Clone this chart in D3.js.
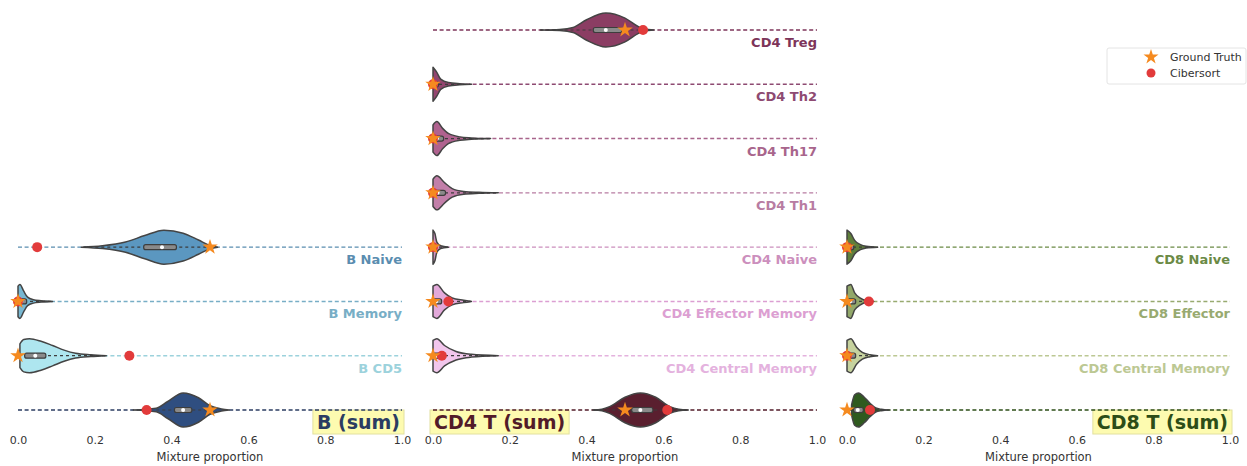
<!DOCTYPE html>
<html><head><meta charset="utf-8">
<script src="https://cdn.jsdelivr.net/npm/d3@7"></script>
<style>
body{margin:0;background:#fff;}
text{font-family:"DejaVu Sans",sans-serif;}
</style></head>
<body><svg id="chart" width="1247" height="466"></svg>
<script>
// ---------- DATA ----------
const tickValues = [0, 0.2, 0.4, 0.6, 0.8, 1.0];
const tickLabels = ["0.0", "0.2", "0.4", "0.6", "0.8", "1.0"];
const xAxisTitle = "Mixture proportion";
const legendLabels = ["Ground Truth", "Cibersort"];

const bCategories = ["B Naive", "B Memory", "B CD5", "B (sum)"];
const cd4Categories = ["CD4 Treg", "CD4 Th2", "CD4 Th17", "CD4 Th1", "CD4 Naive", "CD4 Effector Memory", "CD4 Central Memory", "CD4 T (sum)"];
const cd8Categories = ["CD8 Naive", "CD8 Effector", "CD8 Central Memory", "CD8 T (sum)"];

// ground truth (star) and Cibersort (dot) estimates
const bGroundTruth = [0.50, 0.0, 0.0, 0.50];
const bCibersort = [0.05, 0.0, 0.29, 0.335];
const cd4GroundTruth = [0.50, 0.0, 0.0, 0.0, 0.0, 0.0, 0.0, 0.50];
const cd4Cibersort = [0.547, 0.0, 0.0, 0.0, 0.0, 0.04, 0.023, 0.61];
const cd8GroundTruth = [0.0, 0.0, 0.0, 0.0];
const cd8Cibersort = [0.0, 0.057, 0.0, 0.06];

// violin density profiles: [value, relative density]
const bProfiles = [
  [[0.165,0],[0.22,0.08],[0.28,0.3],[0.33,0.68],[0.38,1.0],[0.43,0.82],[0.47,0.42],[0.50,0.1],[0.52,0]],
  [[0.0,0.9],[0.005,1.0],[0.015,0.6],[0.025,0.25],[0.04,0.1],[0.06,0.04],[0.09,0]],
  [[0.005,0.7],[0.015,0.95],[0.03,1.0],[0.06,0.85],[0.09,0.6],[0.12,0.33],[0.15,0.14],[0.19,0.05],[0.23,0]],
  [[0.30,0],[0.36,0.1],[0.39,0.5],[0.43,1.0],[0.47,0.72],[0.50,0.25],[0.53,0.06],[0.55,0]]
];
const cd4Profiles = [
  [[0.28,0],[0.33,0.03],[0.365,0.15],[0.40,0.6],[0.45,1.0],[0.50,0.7],[0.535,0.2],[0.55,0.06],[0.575,0]],
  [[0.0,1.0],[0.01,0.7],[0.02,0.3],[0.04,0.1],[0.07,0.03],[0.10,0]],
  [[0.0,0.8],[0.01,1.0],[0.025,0.6],[0.04,0.3],[0.07,0.1],[0.10,0.04],[0.15,0]],
  [[0.0,0.8],[0.01,1.0],[0.03,0.6],[0.05,0.25],[0.08,0.08],[0.12,0.03],[0.17,0]],
  [[0.0,1.0],[0.005,0.8],[0.01,0.3],[0.02,0.08],[0.04,0]],
  [[0.0,0.9],[0.01,1.0],[0.03,0.5],[0.05,0.2],[0.08,0.07],[0.10,0]],
  [[0.0,0.9],[0.01,1.0],[0.03,0.6],[0.06,0.25],[0.10,0.08],[0.17,0]],
  [[0.416,0],[0.44,0.05],[0.46,0.2],[0.50,0.75],[0.54,1.0],[0.58,0.75],[0.617,0.2],[0.64,0.05],[0.665,0]]
];
const cd8Profiles = [
  [[0.0,1.0],[0.01,0.8],[0.02,0.4],[0.035,0.15],[0.05,0.05],[0.08,0]],
  [[0.0,0.9],[0.01,1.0],[0.02,0.5],[0.035,0.2],[0.05,0.05],[0.07,0]],
  [[0.0,0.9],[0.01,1.0],[0.025,0.5],[0.04,0.2],[0.06,0.06],[0.08,0]],
  [[0.012,0.3],[0.02,0.9],[0.03,1.0],[0.045,0.75],[0.06,0.4],[0.075,0.12],[0.09,0.04],[0.11,0]]
];
// inner box: [whiskerLow, q1, median, q3, whiskerHigh]
const bBoxStats = [[0.17,0.33,0.375,0.41,0.50],[0.0,0.0,0.008,0.02,0.09],[0.0,0.02,0.045,0.07,0.23],[0.36,0.41,0.43,0.45,0.50]];
const cd4BoxStats = [[0.28,0.42,0.45,0.49,0.56],[0.0,0.0,0.005,0.012,0.10],[0.0,0.0,0.01,0.025,0.15],[0.0,0.005,0.012,0.03,0.17],[0.0,0.0,0.002,0.006,0.04],[0.0,0.0,0.008,0.02,0.10],[0.0,0.0,0.008,0.02,0.17],[0.42,0.52,0.54,0.57,0.66]];
const cd8BoxStats = [[0.0,0.0,0.006,0.015,0.08],[0.0,0.0,0.008,0.02,0.07],[0.0,0.0,0.008,0.02,0.08],[0.01,0.02,0.028,0.04,0.10]];

// ---------- STYLES ----------
const bFill = ["#5b97c0", "#78b8d2", "#aee6ef", "#2f4e80"];
const bText = ["#5a8db0", "#78aec6", "#9cd2dc", "#2b3c62"];
const cd4Fill = ["#8b3d63", "#93456f", "#b0628f", "#c27fa9", "#cf92bd", "#e3a9da", "#f2c6ec", "#5a1f2f"];
const cd4Text = ["#7d3459", "#8e4a72", "#a8658c", "#b87ca2", "#cc8fbd", "#dc9fd2", "#e4b2de", "#521b29"];
const cd8Fill = ["#5f7f3a", "#92a86a", "#c6d29e", "#2f5a1f"];
const cd8Text = ["#6b8a45", "#98aa70", "#bcc893", "#2c4d17"];

const panels = [
  {cats: bCategories, gt: bGroundTruth, cib: bCibersort, prof: bProfiles, box: bBoxStats, fill: bFill, text: bText, range: [18, 402], sumBox: "right"},
  {cats: cd4Categories, gt: cd4GroundTruth, cib: cd4Cibersort, prof: cd4Profiles, box: cd4BoxStats, fill: cd4Fill, text: cd4Text, range: [433, 817], sumBox: "left"},
  {cats: cd8Categories, gt: cd8GroundTruth, cib: cd8Cibersort, prof: cd8Profiles, box: cd8BoxStats, fill: cd8Fill, text: cd8Text, range: [847, 1230], sumBox: "right"}
];

const svg = d3.select("#chart");
const nSlots = 8;
const y = d3.scalePoint().domain(d3.range(nSlots)).range([30, 410]);
const halfW = d3.scaleLinear().domain([0, 1]).range([0, 17]);
const starPath = d3.symbol(d3.symbolStar).size(75)();
const dotR = 5;

panels.forEach(p => {
  const x = d3.scaleLinear().domain([0, 1]).range(p.range);
  const g = svg.append("g");
  const n = p.cats.length;

  p.cats.forEach((cat, i) => {
    const cy = y(nSlots - n + i);
    const isSum = i === n - 1;
    // dashed reference line
    g.append("line").attr("x1", x(0)).attr("x2", x(1)).attr("y1", cy).attr("y2", cy)
      .attr("stroke", p.text[i]).attr("stroke-width", 1.4).attr("stroke-dasharray", "4,2.6");
    // violin
    const area = d3.area().x(d => x(d[0])).y0(d => cy - halfW(d[1])).y1(d => cy + halfW(d[1])).curve(d3.curveMonotoneX);
    g.append("path").attr("d", area(p.prof[i])).attr("fill", p.fill[i])
      .attr("stroke", "#444").attr("stroke-width", 1.5).attr("stroke-linejoin", "round");
    // inner box
    const [lo, q1, med, q3, hi] = p.box[i];
    g.append("line").attr("x1", x(lo)).attr("x2", x(hi)).attr("y1", cy).attr("y2", cy)
      .attr("stroke", "#3d3d3d").attr("stroke-width", 1.2).attr("stroke-dasharray", "3,3");
    g.append("rect").attr("x", x(q1) - 1).attr("y", cy - 2.5).attr("width", Math.max(x(q3) - x(q1) + 2, 3)).attr("height", 5)
      .attr("rx", 2).attr("fill", "#8a8a8a").attr("stroke", "#3d3d3d").attr("stroke-width", 1.2);
    g.append("circle").attr("cx", x(med)).attr("cy", cy).attr("r", 2).attr("fill", "#fff");
    // Cibersort dot & ground truth star
    g.append("circle").attr("cx", x(p.cib[i])).attr("cy", cy).attr("r", dotR).attr("fill", "#e23b3b");
    g.append("path").attr("d", starPath).attr("transform", `translate(${x(p.gt[i])},${cy})`).attr("fill", "#f58a1f");

    // labels
    if (!isSum) {
      g.append("text").attr("x", x(1)).attr("y", cy + 17).attr("text-anchor", "end")
        .attr("font-size", 13).attr("font-weight", "bold").attr("fill", p.text[i]).text(cat);
    } else {
      const t = g.append("text").attr("y", cy + 19).attr("font-size", 19).attr("font-weight", "bold").attr("fill", p.text[i]).text(cat);
      const w = t.node().getComputedTextLength();
      const bx = p.sumBox === "right" ? x(1) - w - 6 : x(0) - 3;
      t.attr("x", bx + 4);
      g.insert("rect", "text").attr("x", bx).attr("y", cy).attr("width", w + 8).attr("height", 24)
        .attr("fill", "#fdfbb0").attr("stroke", "#e2e0a0").attr("stroke-width", 1);
      t.raise();
    }
  });

  // x axis (tick labels only)
  const axis = d3.axisBottom(x).tickValues(tickValues).tickFormat((d, k) => tickLabels[k]).tickSize(0).tickPadding(0);
  const ag = svg.append("g").attr("transform", "translate(0,436)").call(axis);
  ag.select(".domain").remove();
  ag.selectAll("text").attr("font-size", 11).attr("fill", "#333").attr("font-family", "DejaVu Sans");
  svg.append("text").attr("x", (p.range[0] + p.range[1]) / 2).attr("y", 461).attr("text-anchor", "middle")
    .attr("font-size", 11.5).attr("fill", "#333").text(xAxisTitle);
});

// legend
const lg = svg.append("g").attr("transform", "translate(1107,48)");
lg.append("rect").attr("width", 139).attr("height", 36).attr("rx", 2).attr("fill", "#fff").attr("stroke", "#e4e4e4");
lg.append("path").attr("d", d3.symbol(d3.symbolStar).size(70)()).attr("transform", "translate(44,9)").attr("fill", "#f58a1f");
lg.append("circle").attr("cx", 44).attr("cy", 25).attr("r", 4.5).attr("fill", "#e23b3b");
legendLabels.forEach((t, k) => {
  lg.append("text").attr("x", 63).attr("y", 13 + k * 16).attr("font-size", 11).attr("fill", "#333").text(t);
});
</script></body></html>
